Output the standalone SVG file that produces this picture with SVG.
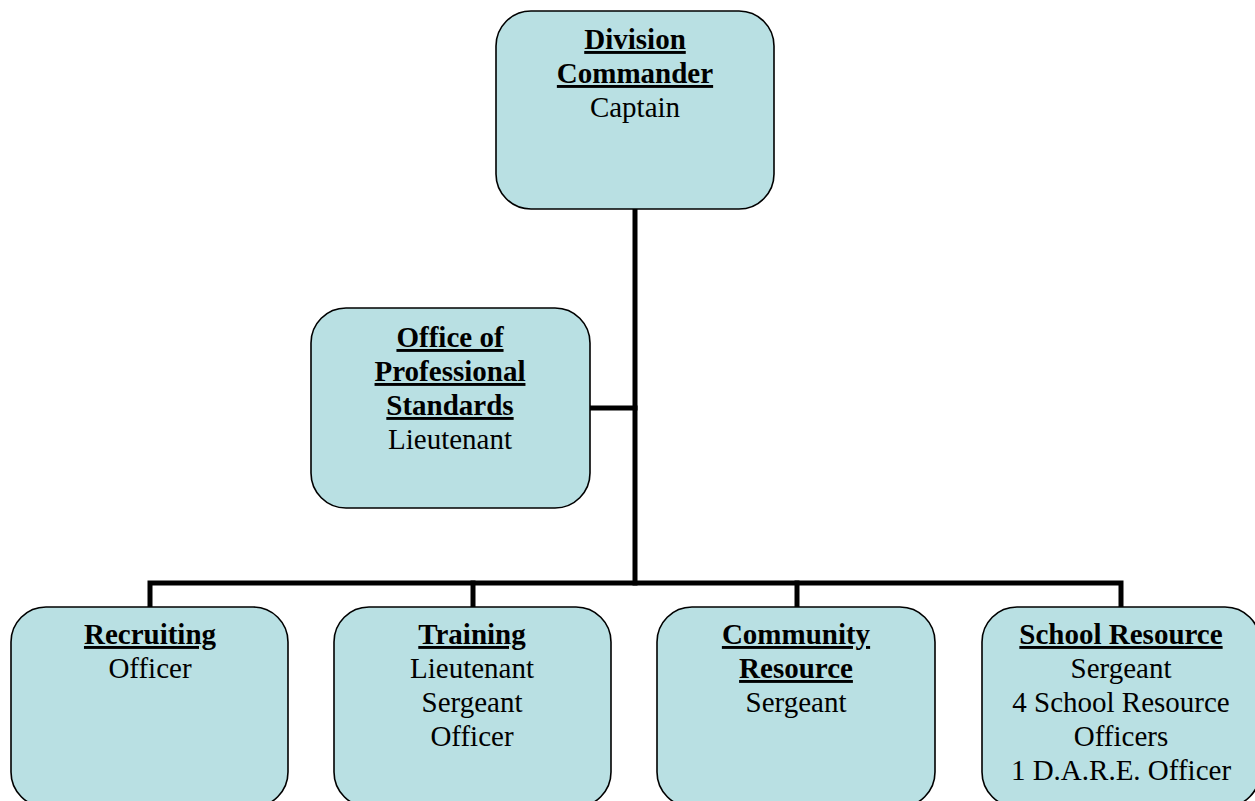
<svg xmlns="http://www.w3.org/2000/svg" width="1255" height="801" viewBox="0 0 1255 801">
<style>
.box{fill:#B9E0E3;stroke:#000;stroke-width:1.6}
.t{font-family:"Liberation Serif","Times New Roman",serif;font-size:29px;fill:#000;text-anchor:middle}
.h{font-weight:bold;text-decoration:underline}
.c{fill:none;stroke:#000;stroke-width:5;stroke-linecap:square}
</style>
<rect width="1255" height="801" fill="#fff"/>
<g id="connectors">
<line class="c" x1="635" y1="209" x2="635" y2="583"/>
<line class="c" x1="590" y1="408" x2="635" y2="408"/>
<polyline class="c" points="150,606 150,583 1121,583 1121,606"/>
<line class="c" x1="473" y1="583" x2="473" y2="606"/>
<line class="c" x1="797" y1="583" x2="797" y2="606"/>
</g>
<g id="division-commander">
<rect class="box" x="496" y="11" width="278" height="198" rx="35"/>
<text class="t h" x="635" y="49">Division</text>
<text class="t h" x="635" y="83">Commander</text>
<text class="t" x="635" y="117">Captain</text>
</g>
<g id="office-professional-standards">
<rect class="box" x="311" y="308" width="279" height="200" rx="35"/>
<text class="t h" x="450" y="347">Office of</text>
<text class="t h" x="450" y="381">Professional</text>
<text class="t h" x="450" y="415">Standards</text>
<text class="t" x="450" y="449">Lieutenant</text>
</g>
<g id="recruiting">
<rect class="box" x="11" y="607" width="277" height="200" rx="35"/>
<text class="t h" x="150" y="644">Recruiting</text>
<text class="t" x="150" y="678">Officer</text>
</g>
<g id="training">
<rect class="box" x="334" y="607" width="277" height="200" rx="35"/>
<text class="t h" x="472" y="644">Training</text>
<text class="t" x="472" y="678">Lieutenant</text>
<text class="t" x="472" y="712">Sergeant</text>
<text class="t" x="472" y="746">Officer</text>
</g>
<g id="community-resource">
<rect class="box" x="657" y="607" width="278" height="200" rx="35"/>
<text class="t h" x="796" y="644">Community</text>
<text class="t h" x="796" y="678">Resource</text>
<text class="t" x="796" y="712">Sergeant</text>
</g>
<g id="school-resource">
<rect class="box" x="982" y="607" width="278" height="200" rx="35"/>
<text class="t h" x="1121" y="644">School Resource</text>
<text class="t" x="1121" y="678">Sergeant</text>
<text class="t" x="1121" y="712">4 School Resource</text>
<text class="t" x="1121" y="746">Officers</text>
<text class="t" x="1121" y="780">1 D.A.R.E. Officer</text>
</g>
</svg>
